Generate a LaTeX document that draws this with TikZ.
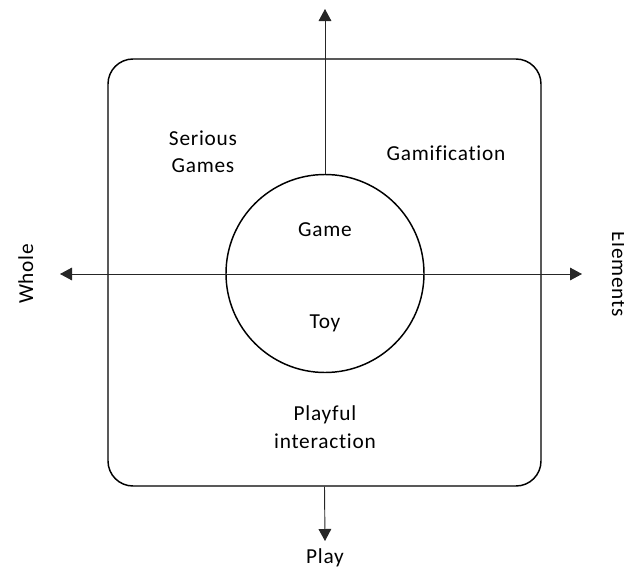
\documentclass[tikz,border=0pt]{standalone}
\usepackage{fontspec}
\setmainfont[Ligatures={NoCommon},LetterSpace=3.5]{Carlito}
\usetikzlibrary{arrows.meta}
\begin{document}
\begin{tikzpicture}[x=0.75pt,y=-0.75pt,
  shape line/.style={line width=1.1pt,draw=black},
  axis/.style={line width=0.7pt,draw=black!85,
    -{Triangle[length=9pt,width=9.5pt]}},
  axis2/.style={line width=0.7pt,draw=black!85,
    {Triangle[length=9pt,width=9.5pt]}-{Triangle[length=9pt,width=9.5pt]}},
  label/.style={font=\fontsize{16}{20.5}\selectfont,align=center,inner sep=0pt}]
  \useasboundingbox (0,0) rectangle (624,571);

  % rounded frame and central circle
  \node[shape line,rectangle,rounded corners=18.75pt,inner sep=0pt,
        minimum width=324.75pt,minimum height=320.25pt] (frame) at (324.5,272.5) {};
  \node[shape line,circle,inner sep=0pt,minimum size=148.5pt] (core) at (325,273.5) {};

  % axis end points
  \coordinate (topend) at (325,9);
  \coordinate (botend) at (325,541);
  \coordinate (leftend) at (60,274);
  \coordinate (rightend) at (582,274);

  % axes
  \draw[axis] (core.north) -- (topend);
  \draw[axis] (frame.south) -- (botend);
  \draw[axis2] (leftend) -- (rightend);

  % quadrant labels
  \node[label] (serious) at (203,152) {Serious\\Games};
  \node[label] (gamif) at (446,153) {Gamification};
  \node[label] (game) at (325,230) {Game};
  \node[label] (toy) at (325,323) {Toy};
  \node[label] (playful) at (325,427) {Playful\\interaction};

  % axis labels
  \node[label] (play) at (325,558) {Play};
  \node[label,rotate=90,anchor=base] (whole) at (33,274) {Whole};
  \node[label,rotate=-90,anchor=base] (elements) at (612,274) {Elements};
\end{tikzpicture}
\end{document}
